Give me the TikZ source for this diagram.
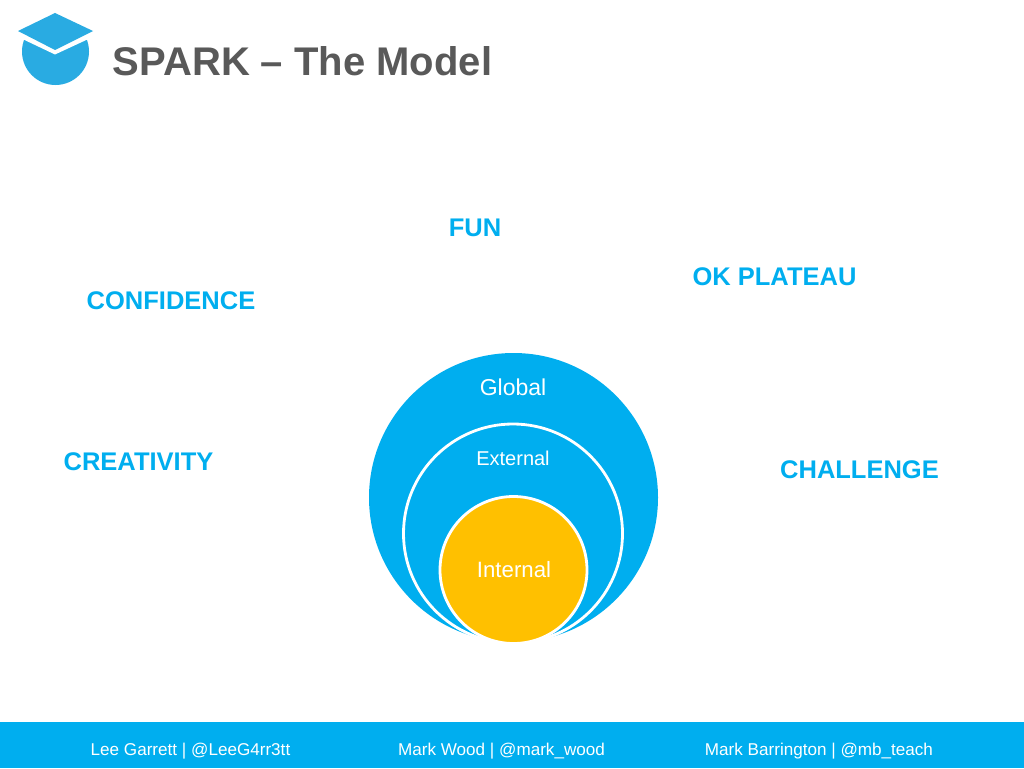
\documentclass[tikz,border=0pt]{standalone}
\usepackage{fontspec}
\setmainfont{Liberation Sans}
\definecolor{sparkblue}{HTML}{00AEEF}
\definecolor{capblue}{HTML}{29ABE2}
\definecolor{coreyellow}{HTML}{FFC000}
\definecolor{titlegrey}{HTML}{595959}
\tikzset{
  topic/.style={text=sparkblue,font=\fontsize{25.5}{26}\selectfont\bfseries,inner sep=0pt},
  credit/.style={text=white,font=\fontsize{17.1}{18}\selectfont,inner sep=0pt},
  ring/.style={circle,inner sep=0pt,text=white}
}
\begin{document}
\begin{tikzpicture}
  [x=1pt,y=-1pt,every node/.style={anchor=center}]
\useasboundingbox (0,0) rectangle (1024,768);
\fill[white] (0,0) rectangle (1024,768);
\fill[sparkblue] (0,722) rectangle (1024,768);
% logo
\fill[capblue] (55.5,51.5) circle (33.5);
\fill[white] (55,17) -- (14,35) -- (55,54.5) -- (97,35) -- cycle;
\fill[capblue] (55,13) -- (18,31) -- (55,50) -- (93,31) -- cycle;
\node[text=titlegrey,font=\fontsize{40}{40}\selectfont\bfseries,inner sep=0pt] (title) at (302.5,61) {SPARK -- The Model};
% topics
\node[topic] (fun) at (475,228) {FUN};
\node[topic] (plateau) at (774.5,277) {OK PLATEAU};
\node[topic] (confidence) at (171,301) {CONFIDENCE};
\node[topic] (creativity) at (138.5,462) {CREATIVITY};
\node[topic] (challenge) at (859.5,470) {CHALLENGE};
% circles
\node[ring,fill=sparkblue,minimum size=289pt] (global) at (513.5,497.5) {};
\node[ring,fill=sparkblue,draw=white,line width=2.8pt,minimum size=219pt] (external) at (513,533.5) {};
\node[ring,fill=coreyellow,draw=white,line width=2.8pt,minimum size=147pt] (internal) at (513.5,570) {};
\node[text=white,font=\fontsize{23}{23}\selectfont,inner sep=0pt] (globaltext) at (513,387.5) {Global};
\node[text=white,font=\fontsize{20}{20}\selectfont,inner sep=0pt] (externaltext) at (513,458.5) {External};
\node[text=white,font=\fontsize{22.2}{23}\selectfont,inner sep=0pt] (internaltext) at (514,570) {Internal};
% footer
\node[credit] (lee) at (190.5,751) {Lee Garrett | @LeeG4rr3tt};
\node[credit] (wood) at (501.5,751) {Mark Wood | @mark\_wood};
\node[credit] (barrington) at (819,751) {Mark Barrington | @mb\_teach};
\end{tikzpicture}
\end{document}
